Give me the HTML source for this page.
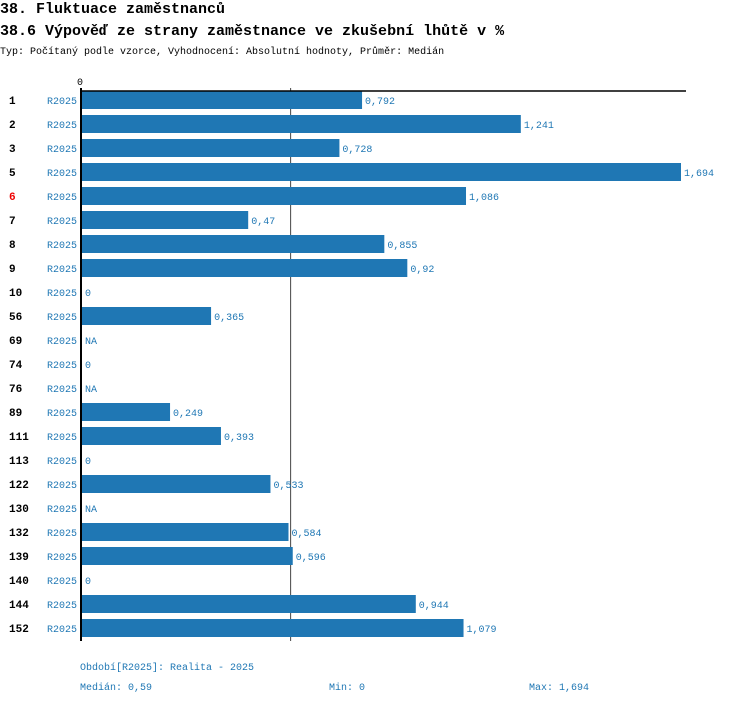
<!DOCTYPE html>
<html><head><meta charset="utf-8"><style>
body{margin:0;background:#fff;width:750px;height:704px;overflow:hidden;font-family:"Liberation Mono","DejaVu Sans Mono",monospace}
svg text{font-family:"Liberation Mono","DejaVu Sans Mono",monospace}
</style></head><body>
<svg id="chart" width="750" height="704" xmlns="http://www.w3.org/2000/svg">
<text x="0" y="13" font-size="15" font-weight="bold">38. Fluktuace zaměstnanců</text>
<text x="0" y="35" font-size="15" font-weight="bold">38.6 Výpověď ze strany zaměstnance ve zkušební lhůtě v %</text>
<text x="0" y="54" font-size="10">Typ: Počítaný podle vzorce, Vyhodnocení: Absolutní hodnoty, Průměr: Medián</text>
<text x="77" y="85" font-size="10">0</text>
<g id="marks"></g>
<line x1="80" y1="91" x2="686" y2="91" stroke="#000" stroke-width="1.5"/>
<line x1="81" y1="88" x2="81" y2="641" stroke="#000" stroke-width="2"/>
<text x="80" y="670" font-size="10" fill="#1f77b4">Období[R2025]: Realita - 2025</text>
<text x="80" y="690" font-size="10" fill="#1f77b4">Medián: 0,59</text>
<text x="329" y="690" font-size="10" fill="#1f77b4">Min: 0</text>
<text x="529" y="690" font-size="10" fill="#1f77b4">Max: 1,694</text>
</svg>
<script>
const categories=["1","2","3","5","6","7","8","9","10","56","69","74","76","89","111","113","122","130","132","139","140","144","152"];
const values=[0.792,1.241,0.728,1.694,1.086,0.47,0.855,0.92,0,0.365,null,0,null,0.249,0.393,0,0.533,null,0.584,0.596,0,0.944,1.079];
const highlighted=["6"];
const median=0.59;
const maxVal=1.694;
const NS="http://www.w3.org/2000/svg";
const g=document.getElementById('marks');
const x=v=>82+v*(599/maxVal);
const y=i=>100+i*24;
function mk(t,a){const e=document.createElementNS(NS,t);for(const k in a)e.setAttribute(k,a[k]);return e;}
const ml=mk('line',{x1:x(median),x2:x(median),y1:88,y2:641,stroke:'#444','stroke-width':1});


g.appendChild(ml);
categories.forEach((c,i)=>{
  const cy=y(i);
  const lab=mk('text',{x:9,y:cy+4,'font-size':11,'font-weight':'bold',fill:highlighted.includes(c)?'#e00':'#000'});
  lab.textContent=c;
  
  
  g.appendChild(lab);
  const p=mk('text',{x:47,y:cy+4,'font-size':10,fill:'#1f77b4'});
  p.textContent='R2025';
  
  
  g.appendChild(p);
  const v=values[i];
  if(v!==null&&v>0){
    const r=mk('rect',{x:82,y:cy-9,width:x(v)-82,height:18,fill:'#1f77b4'});
    
    
    g.appendChild(r);
  }
  const t=mk('text',{x:(v?x(v):82)+3,y:cy+4,'font-size':10,fill:'#1f77b4'});
  t.textContent=v===null?'NA':String(v).replace('.',',');
  
  
  g.appendChild(t);
});
</script>
</body></html>
